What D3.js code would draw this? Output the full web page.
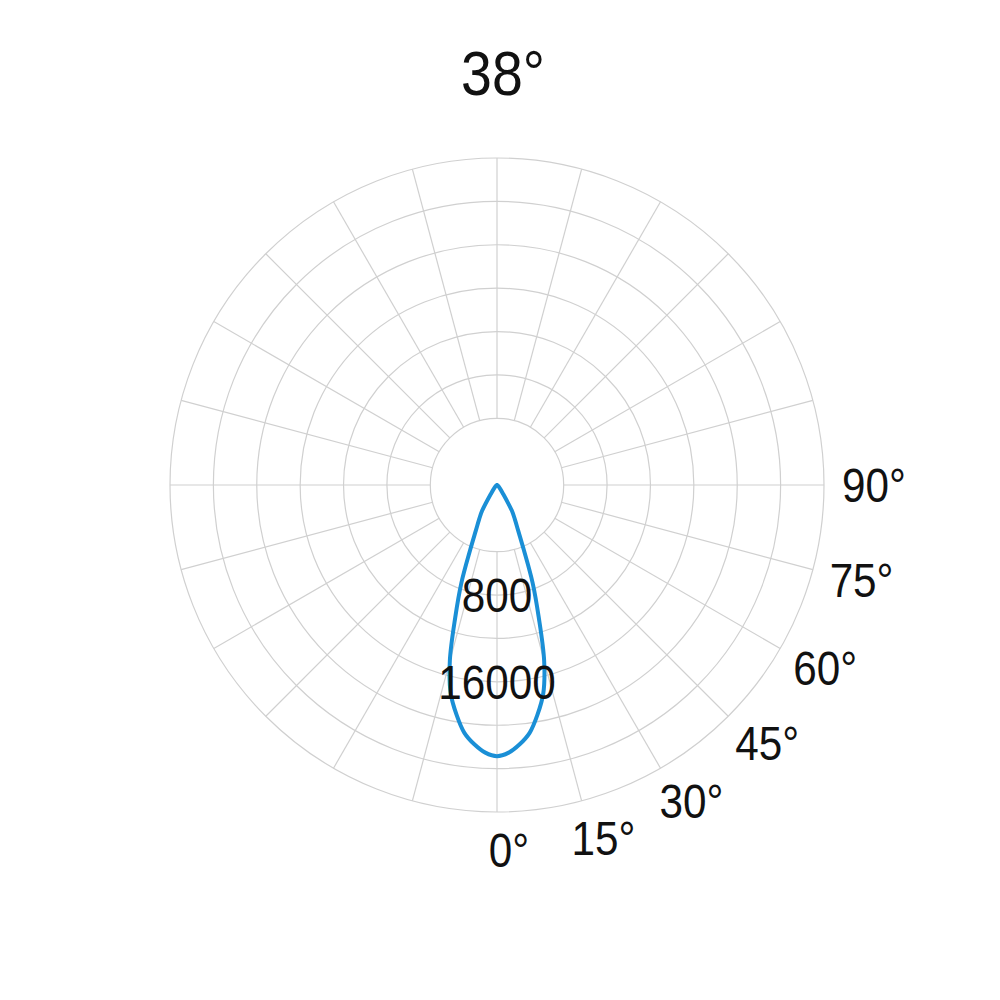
<!DOCTYPE html>
<html>
<head>
<meta charset="utf-8">
<script src="https://cdn.jsdelivr.net/npm/d3@7"></script>
<style>
  html, body { margin: 0; padding: 0; background: #ffffff; }
  svg { display: block; }
  text { font-family: "Liberation Sans", Arial, Helvetica, sans-serif; fill: #111; }
</style>
</head>
<body>
<script>
// ---------- data ----------
const title = "38°";
// luminous intensity (cd) vs angle from nadir (deg), right half; mirrored for the left half
const curveAngles = [0, 2.5, 5, 7.5, 10, 12.5, 15, 17.5, 20, 22.5, 25, 27.5, 30, 35, 40, 50, 60, 90];
const curveValues = [25000, 24700, 24000, 23050, 21500, 19700, 16800, 12800, 9600, 6420, 4590, 3570, 2750, 920, 460, 140, 0, 0];
// grid rings (cd)
const ringValues = [6150, 10150, 14150, 18150, 22150, 26150, 30150];
const radialTickValues = [10150, 18150];
const radialTickLabels = ["800", "16000"];
// angular grid and labels
const spokeAngles = d3.range(0, 360, 15);
const angleTickValues = [0, 15, 30, 45, 60, 75, 90];
const angleTickLabels = ["0°", "15°", "30°", "45°", "60°", "75°", "90°"];

// ---------- layout ----------
const W = 1000, H = 1000;
const cx = 497, cy = 485, R = 327;
const squeeze = 0.88;

const svg = d3.select("body").append("svg").attr("width", W).attr("height", H);
const g = svg.append("g").attr("transform", `translate(${cx},${cy})`);

const r = d3.scaleLinear().domain([0, d3.max(ringValues)]).range([0, R]);
// angle from nadir (deg, positive to the right) -> d3 radial angle (0 = up, clockwise)
const a = d => Math.PI - d * Math.PI / 180;

// rings
g.append("g").selectAll("circle").data(ringValues).join("circle")
  .attr("r", d => r(d)).attr("fill", "none")
  .attr("stroke", "#d0d0d0").attr("stroke-width", 1.2);

// spokes from the inner ring outwards
const rIn = r(ringValues[0]);
g.append("g").selectAll("line").data(spokeAngles).join("line")
  .attr("x1", d => rIn * Math.sin(a(d))).attr("y1", d => -rIn * Math.cos(a(d)))
  .attr("x2", d => R * Math.sin(a(d))).attr("y2", d => -R * Math.cos(a(d)))
  .attr("stroke", "#d0d0d0").attr("stroke-width", 1.2);

// curve
const pts = [];
for (let i = curveAngles.length - 1; i > 0; i--) pts.push([-curveAngles[i], curveValues[i]]);
for (let i = 0; i < curveAngles.length; i++) pts.push([curveAngles[i], curveValues[i]]);
const line = d3.lineRadial()
  .angle(d => a(d[0]))
  .radius(d => r(d[1]))
  .curve(d3.curveCatmullRom.alpha(0.5));
g.append("path").datum(pts).attr("d", line)
  .attr("fill", "none").attr("stroke", "#1a8fd6").attr("stroke-width", 4)
  .attr("stroke-linejoin", "round").attr("stroke-linecap", "round");

// radial tick labels on the 0° axis
radialTickValues.forEach((v, i) => {
  g.append("g").attr("transform", `translate(0,${r(v)}) scale(${squeeze},1)`)
    .append("text").attr("text-anchor", "middle").attr("dy", "0.36em")
    .attr("font-size", 48).text(radialTickLabels[i]);
});

// angle labels
const labelR = 365, labelDx = 12;
angleTickValues.forEach((d, i) => {
  const x = labelR * Math.sin(a(d)) + labelDx;
  const y = -labelR * Math.cos(a(d));
  g.append("g").attr("transform", `translate(${x},${y}) scale(${squeeze},1)`)
    .append("text").attr("text-anchor", "middle").attr("dy", "0.36em")
    .attr("font-size", 48).text(angleTickLabels[i]);
});

// title
svg.append("g").attr("transform", `translate(503,95) scale(${squeeze},1)`)
  .append("text").attr("text-anchor", "middle").attr("font-size", 63).text(title);
</script>
</body>
</html>
